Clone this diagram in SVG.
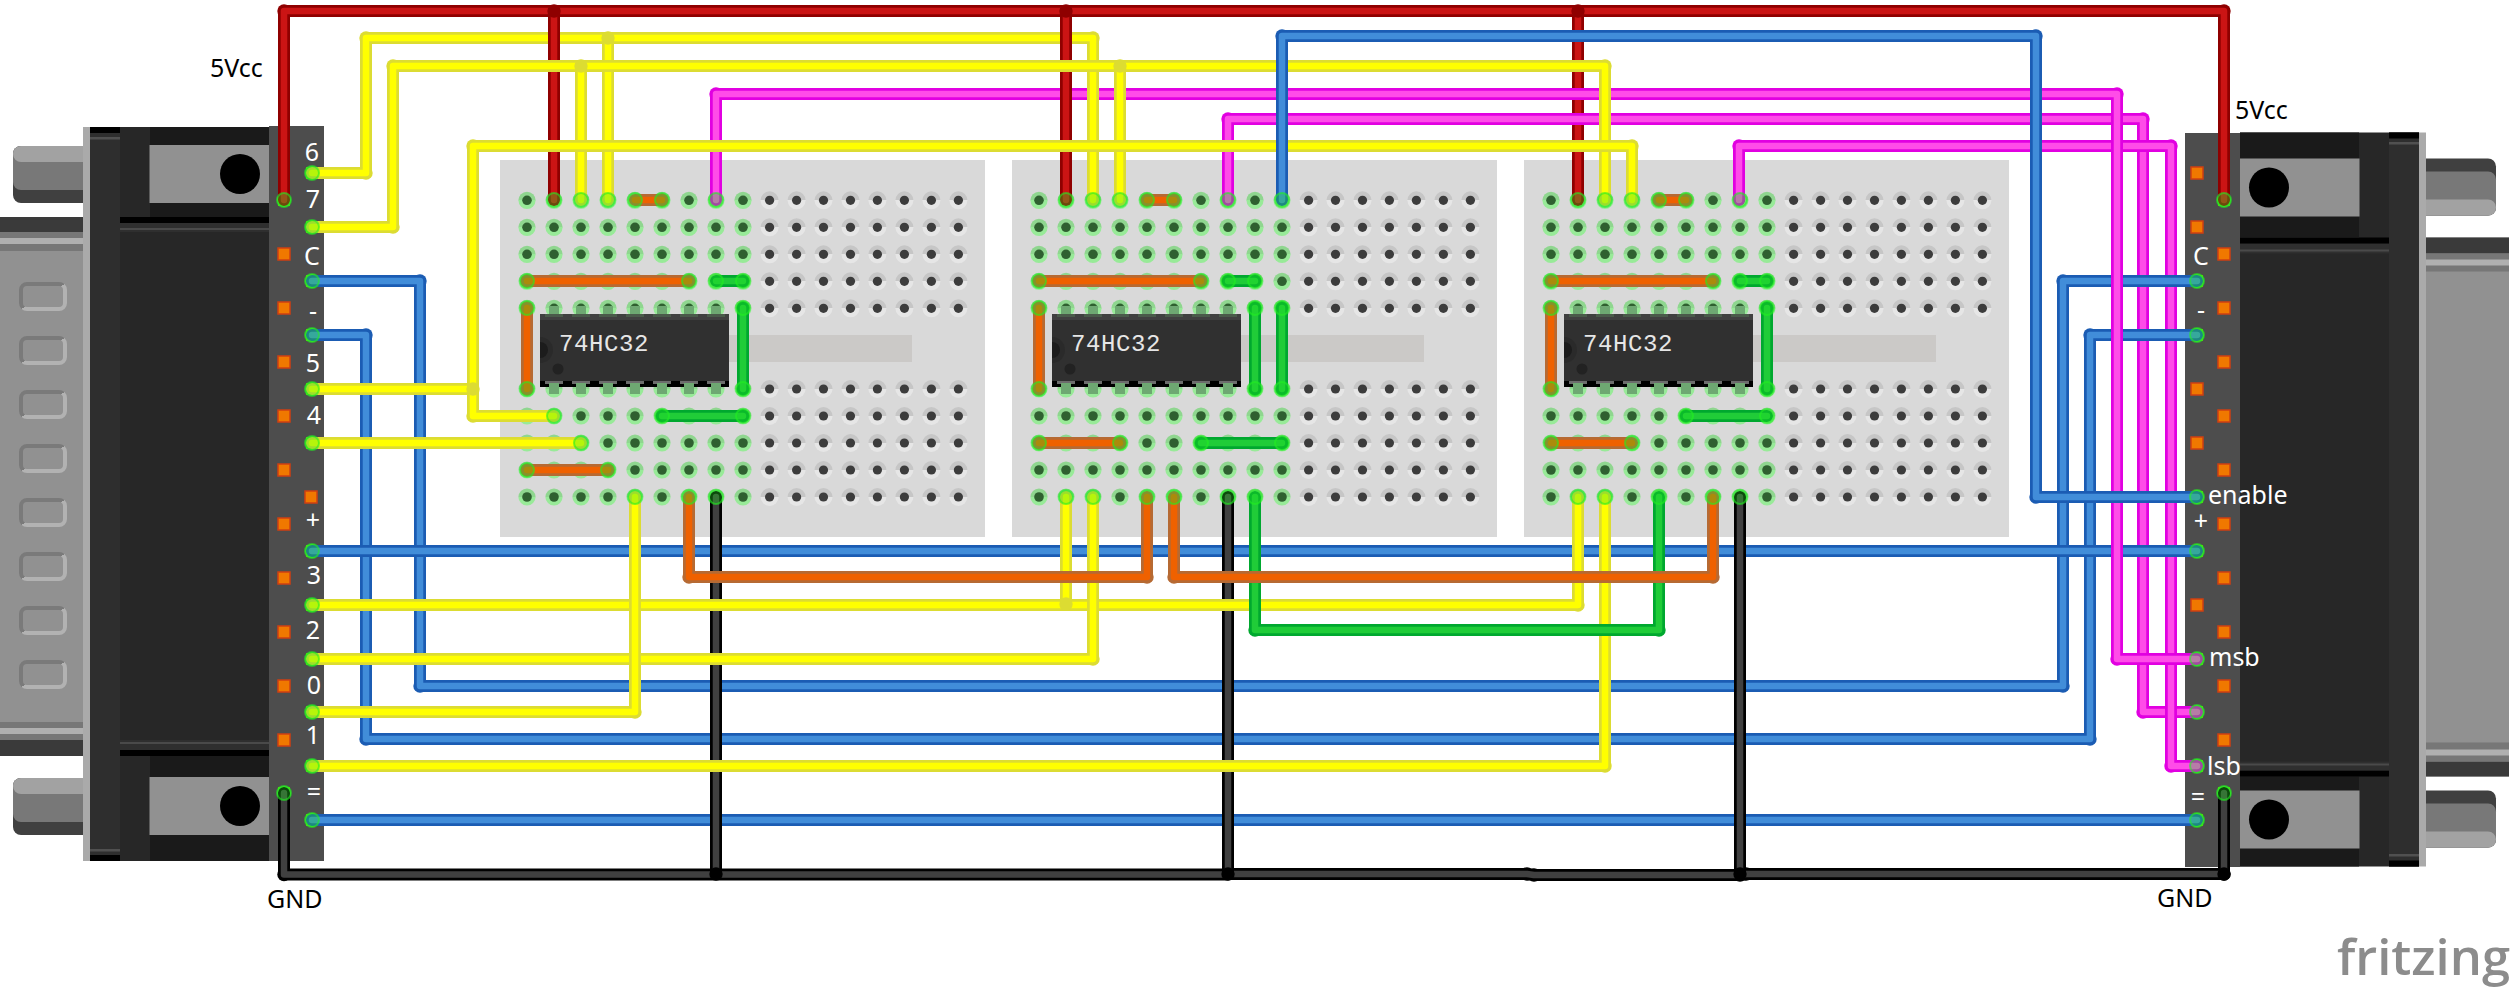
<svg xmlns="http://www.w3.org/2000/svg" xmlns:xlink="http://www.w3.org/1999/xlink" width="2514" height="987" viewBox="0 0 2514 987">
<style>
text{font-family:"Noto Sans","Open Sans","DejaVu Sans",sans-serif}
.lb{font-size:25px;fill:#fff}
.ex{font-size:25px;fill:#000}
.ic{font-family:"Liberation Mono","DejaVu Sans Mono",monospace;font-size:24px;fill:#e6e6e6;letter-spacing:0.6px}
path{fill:none;stroke-linecap:round;stroke-linejoin:round}
.o{stroke-width:12}.i{stroke-width:6.5}
.nm{marker:none}
.ro{stroke:#8f0000;marker-mid:url(#mr)}.ri{stroke:#cb1414}
.ko{stroke:#000;marker-mid:url(#mk)}.ki{stroke:#404040}
.bo{stroke:#1b5cb3;marker-mid:url(#mb)}.bi{stroke:#418dd9}
.yo{stroke:#dcdc32;marker-mid:url(#my)}.yi{stroke:#ff0}
.mo{stroke:#e100e1;marker-mid:url(#mm)}.mi{stroke:#ff4ce8}
.oo{stroke:#b66a33;marker-mid:url(#mo)}.oi{stroke:#ef6100}
.go{stroke:#00a82f;marker-mid:url(#mg)}.gi{stroke:#20cc38}
.or{fill:#f07800;stroke:#cf3f12;stroke-width:1.5}
.dy{fill:#dcdc32}.dr{fill:#8f0000}.dk{fill:#000}
</style>
<defs>
<marker id="mr" markerUnits="userSpaceOnUse" markerWidth="16" markerHeight="16" refX="8" refY="8"><circle cx="8" cy="8" r="6.7" fill="#8f0000"/></marker>
<marker id="mk" markerUnits="userSpaceOnUse" markerWidth="16" markerHeight="16" refX="8" refY="8"><circle cx="8" cy="8" r="6.7" fill="#000"/></marker>
<marker id="mb" markerUnits="userSpaceOnUse" markerWidth="16" markerHeight="16" refX="8" refY="8"><circle cx="8" cy="8" r="6.7" fill="#1b5cb3"/></marker>
<marker id="my" markerUnits="userSpaceOnUse" markerWidth="16" markerHeight="16" refX="8" refY="8"><circle cx="8" cy="8" r="6.7" fill="#dcdc32"/></marker>
<marker id="mm" markerUnits="userSpaceOnUse" markerWidth="16" markerHeight="16" refX="8" refY="8"><circle cx="8" cy="8" r="6.7" fill="#e100e1"/></marker>
<marker id="mg" markerUnits="userSpaceOnUse" markerWidth="16" markerHeight="16" refX="8" refY="8"><circle cx="8" cy="8" r="6.7" fill="#00a82f"/></marker>
<marker id="mo" markerUnits="userSpaceOnUse" markerWidth="16" markerHeight="16" refX="8" refY="8"><circle cx="8" cy="8" r="6.7" fill="#b66a33"/></marker>
<linearGradient id="hgr" x1="0" y1="0" x2="0" y2="1"><stop offset="0.5" stop-color="#c6c6c6"/><stop offset="0.5" stop-color="#e6e6e6"/></linearGradient>
<linearGradient id="hgg" x1="0" y1="0" x2="0" y2="1"><stop offset="0.5" stop-color="#8fd68f"/><stop offset="0.5" stop-color="#98ea98"/></linearGradient>
<linearGradient id="slot" x1="0" y1="0" x2="1" y2="1"><stop offset="0.5" stop-color="#7a7a7a"/><stop offset="0.5" stop-color="#b2b2b2"/></linearGradient>
<g id="hn"><circle r="9" fill="url(#hgr)"/><circle r="4.6" fill="#3c3c3c"/></g>
<g id="hg"><circle r="8.6" fill="url(#hgg)"/><circle r="4.8" fill="#2f6030"/></g>
<g id="tail"><use href="#hn" x="242.6"/><use href="#hn" x="269.6"/><use href="#hn" x="296.5"/><use href="#hn" x="323.5"/><use href="#hn" x="350.4"/><use href="#hn" x="377.4"/><use href="#hn" x="404.4"/><use href="#hn" x="431.4"/></g>
<g id="head"><use href="#hg"/><use href="#hg" x="27"/><use href="#hg" x="54"/><use href="#hg" x="81"/><use href="#hg" x="108"/><use href="#hg" x="135"/><use href="#hg" x="162"/><use href="#hg" x="189"/><use href="#hg" x="216"/></g>
<g id="r9"><use href="#head"/><use href="#tail"/></g>
<g id="r10"><use href="#head"/><use href="#hg" x="243"/><use href="#hn" x="269.6"/><use href="#hn" x="296.5"/><use href="#hn" x="323.5"/><use href="#hn" x="350.4"/><use href="#hn" x="377.4"/><use href="#hn" x="404.4"/><use href="#hn" x="431.4"/></g>
<g id="rows9"><use href="#r9" y="0.3"/><use href="#r9" y="27.3"/><use href="#r9" y="54.3"/><use href="#r9" y="81.3"/><use href="#r9" y="108.3"/><use href="#r9" y="189"/><use href="#r9" y="216"/><use href="#r9" y="243"/><use href="#r9" y="270"/><use href="#r9" y="297"/></g>
<g id="rows10"><use href="#r10" y="0.3"/><use href="#r10" y="27.3"/><use href="#r10" y="54.3"/><use href="#r10" y="81.3"/><use href="#r10" y="108.3"/><use href="#r10" y="189"/><use href="#r10" y="216"/><use href="#r10" y="243"/><use href="#r10" y="270"/><use href="#r10" y="297"/></g>
<g id="pin"><rect x="-5" y="306" width="10" height="11" fill="#6ea872"/><rect x="-9" y="314" width="18" height="3" fill="#4a5a4a"/><rect x="-9" y="381" width="18" height="3" fill="#6c6c6c"/><rect x="-5" y="383" width="10" height="11" fill="#6ea872"/></g>
<g id="chip">
<rect x="729" y="335" width="183" height="27" fill="#cbc9c7"/>
<rect x="540" y="314" width="189" height="73" fill="#000"/>
<rect x="540" y="314" width="189" height="67" fill="#303030"/>
<rect x="540" y="314" width="189" height="6" fill="#404040"/>
<path d="M540,337A13,13 0 0 1 540,363Z" style="fill:#2a2a2a;stroke:none"/>
<path d="M540,342A8,8 0 0 1 540,358Z" style="fill:#1c1c1c;stroke:none"/>
<circle cx="558" cy="369" r="5.5" fill="#222"/>
<use href="#pin" x="554"/><use href="#pin" x="581"/><use href="#pin" x="608"/><use href="#pin" x="635"/><use href="#pin" x="662"/><use href="#pin" x="689"/><use href="#pin" x="716"/>
<text class="ic" x="559" y="351">74HC32</text>
</g>
<g id="shell">
<rect x="13" y="146" width="80" height="57" rx="8" fill="#404040"/>
<rect x="13" y="146" width="80" height="44" rx="8" fill="#787878"/>
<rect x="13" y="146" width="80" height="16" rx="8" fill="#a2a2a2"/>
<rect x="0" y="217" width="83" height="539" fill="#919191"/>
<rect x="0" y="217" width="83" height="15" fill="#3a3a3a"/><rect x="0" y="232" width="83" height="19" fill="#777"/><rect x="0" y="238" width="83" height="6" fill="#b0b0b0"/>
<rect x="0" y="740" width="83" height="16" fill="#3a3a3a"/><rect x="0" y="722" width="83" height="18" fill="#777"/><rect x="0" y="728" width="83" height="6" fill="#b0b0b0"/>
<rect x="13" y="778" width="80" height="57" rx="8" fill="#404040"/>
<rect x="13" y="778" width="80" height="44" rx="8" fill="#787878"/>
<rect x="13" y="778" width="80" height="16" rx="8" fill="#a2a2a2"/>
<rect x="83" y="127" width="7" height="734" fill="#aaa"/>
<rect x="90" y="127" width="179" height="734" fill="#272727"/>
<rect x="90" y="127" width="30" height="734" fill="#2e2e2e"/>
<rect x="90" y="127" width="30" height="6" fill="#000"/><rect x="90" y="137" width="30" height="2.5" fill="#505050"/>
<rect x="90" y="855" width="30" height="6" fill="#000"/><rect x="90" y="849" width="30" height="2.5" fill="#505050"/>
<rect x="150" y="127" width="119" height="90" fill="#1a1a1a"/><rect x="149.500" y="145" width="119.500" height="58" fill="#919191"/>
<circle cx="240" cy="174" r="20" fill="#000"/>
<rect x="120" y="217" width="149" height="6" fill="#000"/><rect x="120" y="223" width="149" height="9" fill="#2f2f2f"/><rect x="120" y="228" width="149" height="2" fill="#4a4a4a"/>
<rect x="120" y="740" width="149" height="10" fill="#2f2f2f"/><rect x="120" y="742" width="149" height="2" fill="#4a4a4a"/><rect x="120" y="750" width="149" height="6" fill="#000"/>
<rect x="150" y="756" width="119" height="105" fill="#1a1a1a"/><rect x="149.500" y="777" width="119.500" height="58" fill="#919191"/>
<circle cx="240" cy="806" r="20" fill="#000"/>
</g>
<rect id="or" class="or" x="-6" y="-6" width="12" height="12"/>
<g id="pad"><rect x="-6" y="-6" width="12" height="12" fill="#6ad000"/><circle r="7" fill="#4fd82a"/></g>
<circle id="gl" r="7" fill="#22e022" fill-opacity="0.33" stroke="#22ee22" stroke-opacity="0.6" stroke-width="2"/>
</defs>
<rect width="2514" height="987" fill="#fff"/>

<g id="breadboard1"><rect x="500" y="160" width="485" height="377" fill="#d9d9d9"/><use href="#rows9" x="527" y="200"/></g>
<g id="breadboard2"><rect x="1012" y="160" width="485" height="377" fill="#d9d9d9"/><use href="#rows10" x="1039" y="200"/></g>
<g id="breadboard3"><rect x="1524" y="160" width="485" height="377" fill="#d9d9d9"/><use href="#rows9" x="1551" y="200"/></g>
<g id="ic1"><use href="#chip"/></g>
<g id="ic2"><use href="#chip" x="512"/></g>
<g id="ic3"><use href="#chip" x="1024"/></g>

<g id="connector-left">
<use href="#shell"/>
<g fill="none" stroke="url(#slot)" stroke-width="4">
<rect x="21" y="284" width="44" height="25" rx="6"/><rect x="21" y="338" width="44" height="25" rx="6"/><rect x="21" y="392" width="44" height="25" rx="6"/><rect x="21" y="446" width="44" height="25" rx="6"/><rect x="21" y="500" width="44" height="25" rx="6"/><rect x="21" y="554" width="44" height="25" rx="6"/><rect x="21" y="608" width="44" height="25" rx="6"/><rect x="21" y="662" width="44" height="25" rx="6"/>
</g>
<rect x="269" y="126" width="55" height="735" fill="#4d4d4d"/>
<use href="#or" x="284" y="254"/><use href="#or" x="284" y="308"/><use href="#or" x="284" y="362"/><use href="#or" x="284" y="416"/><use href="#or" x="284" y="470"/><use href="#or" x="284" y="524"/><use href="#or" x="284" y="578"/><use href="#or" x="284" y="632"/><use href="#or" x="284" y="686"/><use href="#or" x="284" y="740"/><use href="#or" x="311" y="497"/>
<use href="#pad" x="284" y="200"/><use href="#pad" x="284" y="793"/>
<use href="#pad" x="312" y="173"/><use href="#pad" x="312" y="227"/><use href="#pad" x="312" y="281"/><use href="#pad" x="312" y="335"/><use href="#pad" x="312" y="389"/><use href="#pad" x="312" y="443"/><use href="#pad" x="312" y="551"/><use href="#pad" x="312" y="605"/><use href="#pad" x="312" y="659"/><use href="#pad" x="312" y="712"/><use href="#pad" x="312" y="766"/><use href="#pad" x="312" y="820"/>
<text class="lb" x="312" y="161" text-anchor="middle">6</text><text class="lb" x="313" y="208" text-anchor="middle">7</text><text class="lb" x="312" y="265" text-anchor="middle">C</text><text class="lb" x="313" y="320" text-anchor="middle">-</text><text class="lb" x="313" y="372" text-anchor="middle">5</text><text class="lb" x="314" y="424" text-anchor="middle">4</text><text class="lb" x="313" y="529" text-anchor="middle">+</text><text class="lb" x="314" y="584" text-anchor="middle">3</text><text class="lb" x="313" y="639" text-anchor="middle">2</text><text class="lb" x="314" y="694" text-anchor="middle">0</text><text class="lb" x="313" y="744" text-anchor="middle">1</text><text class="lb" x="314" y="801" text-anchor="middle">=</text>
</g>

<g id="connector-right">
<use href="#shell" transform="translate(2509,993.500) scale(-1,-1)"/>
<rect x="2185" y="133" width="55" height="734" fill="#4d4d4d"/>
<use href="#or" x="2224" y="254"/><use href="#or" x="2224" y="308"/><use href="#or" x="2224" y="362"/><use href="#or" x="2224" y="416"/><use href="#or" x="2224" y="470"/><use href="#or" x="2224" y="524"/><use href="#or" x="2224" y="578"/><use href="#or" x="2224" y="632"/><use href="#or" x="2224" y="686"/><use href="#or" x="2224" y="740"/>
<use href="#or" x="2197" y="173"/><use href="#or" x="2197" y="227"/><use href="#or" x="2197" y="389"/><use href="#or" x="2197" y="443"/><use href="#or" x="2197" y="605"/>
<use href="#pad" x="2224" y="200"/><use href="#pad" x="2224" y="793"/>
<use href="#pad" x="2197" y="281"/><use href="#pad" x="2197" y="335"/><use href="#pad" x="2197" y="497"/><use href="#pad" x="2197" y="551"/><use href="#pad" x="2197" y="659"/><use href="#pad" x="2197" y="712"/><use href="#pad" x="2197" y="766"/><use href="#pad" x="2197" y="820"/>
</g>

<g id="connectors">
<path class="o ro nm" d="M1578,11V200"/><path class="i ri" d="M1578,11V200"/>
<path class="o ro" d="M284,200V11H2224V200"/><path class="i ri" d="M284,200V11H2224V200"/>
<path class="o mo" d="M2197,712H2143V119H1228V200"/><path class="i mi" d="M2197,712H2143V119H1228V200"/>
<path class="o mo" d="M2197,766H2171V146H1739V200"/><path class="i mi" d="M2197,766H2171V146H1739V200"/>
<path class="o bo" d="M312,281H420V686H2063V281H2197"/><path class="i bi" d="M312,281H420V686H2063V281H2197"/>
<path class="o bo" d="M312,335H366V739H2090V335H2197"/><path class="i bi" d="M312,335H366V739H2090V335H2197"/>
<path class="o bo" d="M312,551H2197"/><path class="i bi" d="M312,551H2197"/>
<path class="o bo" d="M312,820H2197"/><path class="i bi" d="M312,820H2197"/>
<path class="o mo" d="M2197,659H2117V94H716V200"/><path class="i mi" d="M2197,659H2117V94H716V200"/>
<path class="o ko" d="M284,793V874.500H1228"/><path class="i ki" d="M284,793V874.500H1228"/>
<path class="o ko nm" d="M1228,874H1527L1534,875H1740L1746,874H2224V793"/><path class="i ki" d="M1228,874H1527L1534,875H1740L1746,874H2224V793"/>
<circle class="dk" cx="2224" cy="874" r="6.7"/>
<path class="o ko nm" d="M716,497V874"/><path class="i ki" d="M716,497V874"/><path class="o ko nm" d="M1228,497V874"/><path class="i ki" d="M1228,497V874"/><path class="o ko nm" d="M1740,497V874"/><path class="i ki" d="M1740,497V874"/>
<circle class="dk" cx="716" cy="874" r="6.7"/><circle class="dk" cx="1228" cy="874" r="6.7"/><circle class="dk" cx="1740" cy="874" r="6.7"/>
<path class="o yo" d="M312,173H366V38H1093V200"/><path class="i yi" d="M312,173H366V38H1093V200"/>
<path class="o yo nm" d="M608,38V200"/><path class="i yi" d="M608,38V200"/><circle class="dy" cx="608" cy="38" r="6.7"/>
<path class="o ro nm" d="M554,11V200"/><path class="i ri" d="M554,11V200"/><path class="o ro nm" d="M1066,11V200"/><path class="i ri" d="M1066,11V200"/>
<circle class="dr" cx="554" cy="11" r="6.7"/><circle class="dr" cx="1066" cy="11" r="6.7"/><circle class="dr" cx="1578" cy="11" r="6.7"/>
<path class="o yo" d="M312,227H393V66H1605V200"/><path class="i yi" d="M312,227H393V66H1605V200"/>
<path class="o yo nm" d="M581,66V200"/><path class="i yi" d="M581,66V200"/><path class="o yo nm" d="M1120,66V200"/><path class="i yi" d="M1120,66V200"/><circle class="dy" cx="581" cy="66" r="6.7"/><circle class="dy" cx="1120" cy="66" r="6.7"/>
<path class="o yo" d="M312,389H473"/><path class="i yi" d="M312,389H473"/>
<path class="o yo" d="M554,416H473V146H1632V200"/><path class="i yi" d="M554,416H473V146H1632V200"/><circle class="dy" cx="473" cy="389" r="6.7"/>
<path class="o yo" d="M312,443H581"/><path class="i yi" d="M312,443H581"/>
<path class="o yo" d="M312,605H1578V497"/><path class="i yi" d="M312,605H1578V497"/>
<path class="o yo nm" d="M1066,605V497"/><path class="i yi" d="M1066,605V497"/><circle class="dy" cx="1066" cy="604" r="6.7"/>
<path class="o yo" d="M312,659H1093V497"/><path class="i yi" d="M312,659H1093V497"/>
<path class="o yo" d="M312,712H635V497"/><path class="i yi" d="M312,712H635V497"/>
<path class="o yo" d="M312,766H1605V497"/><path class="i yi" d="M312,766H1605V497"/>
<path class="o go" d="M1255,497V630H1659V497"/><path class="i gi" d="M1255,497V630H1659V497"/>
<path class="o oo" d="M689,497V577H1147V497"/><path class="i oi" d="M689,497V577H1147V497"/>
<path class="o oo" d="M1174,497V577H1713V497"/><path class="i oi" d="M1174,497V577H1713V497"/>
<path class="o oo nm" d="M635,200H662M527,281H689M527,308V389M527,470H608M1147,200H1174M1039,281H1201M1039,308V389M1039,443H1120M1659,200H1686M1551,281H1713M1551,308V389M1551,443H1632"/>
<path class="i oi" d="M635,200H662M527,281H689M527,308V389M527,470H608M1147,200H1174M1039,281H1201M1039,308V389M1039,443H1120M1659,200H1686M1551,281H1713M1551,308V389M1551,443H1632"/>
<path class="o go nm" d="M716,281H743M743,308V389M662,416H743M1228,281H1255M1255,308V389M1282,308V389M1201,443H1282M1740,281H1767M1767,308V389M1686,416H1767"/>
<path class="i gi" d="M716,281H743M743,308V389M662,416H743M1228,281H1255M1255,308V389M1282,308V389M1201,443H1282M1740,281H1767M1767,308V389M1686,416H1767"/>
<path class="o bo" d="M2197,497H2036V36H1282V200"/><path class="i bi" d="M2197,497H2036V36H1282V200"/>
</g>

<g id="pad-highlights">
<use href="#gl" x="284" y="200"/><use href="#gl" x="284" y="793"/><use href="#gl" x="312" y="173"/><use href="#gl" x="312" y="227"/><use href="#gl" x="312" y="281"/><use href="#gl" x="312" y="335"/><use href="#gl" x="312" y="389"/><use href="#gl" x="312" y="443"/><use href="#gl" x="312" y="551"/><use href="#gl" x="312" y="605"/><use href="#gl" x="312" y="659"/><use href="#gl" x="312" y="712"/><use href="#gl" x="312" y="766"/><use href="#gl" x="312" y="820"/>
<use href="#gl" x="2224" y="200"/><use href="#gl" x="2224" y="793"/><use href="#gl" x="2197" y="281"/><use href="#gl" x="2197" y="335"/><use href="#gl" x="2197" y="497"/><use href="#gl" x="2197" y="551"/><use href="#gl" x="2197" y="659"/><use href="#gl" x="2197" y="712"/><use href="#gl" x="2197" y="766"/><use href="#gl" x="2197" y="820"/>
<use href="#gl" x="554" y="200"/><use href="#gl" x="581" y="200"/><use href="#gl" x="608" y="200"/><use href="#gl" x="635" y="200"/><use href="#gl" x="662" y="200"/><use href="#gl" x="716" y="200"/><use href="#gl" x="527" y="281"/><use href="#gl" x="689" y="281"/><use href="#gl" x="716" y="281"/><use href="#gl" x="743" y="281"/><use href="#gl" x="527" y="308"/><use href="#gl" x="743" y="308"/><use href="#gl" x="527" y="389"/><use href="#gl" x="743" y="389"/><use href="#gl" x="554" y="416"/><use href="#gl" x="662" y="416"/><use href="#gl" x="743" y="416"/><use href="#gl" x="581" y="443"/><use href="#gl" x="527" y="470"/><use href="#gl" x="608" y="470"/><use href="#gl" x="635" y="497"/><use href="#gl" x="689" y="497"/><use href="#gl" x="716" y="497"/>
<use href="#gl" x="1066" y="200"/><use href="#gl" x="1093" y="200"/><use href="#gl" x="1120" y="200"/><use href="#gl" x="1147" y="200"/><use href="#gl" x="1174" y="200"/><use href="#gl" x="1228" y="200"/><use href="#gl" x="1282" y="200"/><use href="#gl" x="1039" y="281"/><use href="#gl" x="1201" y="281"/><use href="#gl" x="1228" y="281"/><use href="#gl" x="1255" y="281"/><use href="#gl" x="1039" y="308"/><use href="#gl" x="1255" y="308"/><use href="#gl" x="1282" y="308"/><use href="#gl" x="1039" y="389"/><use href="#gl" x="1255" y="389"/><use href="#gl" x="1282" y="389"/><use href="#gl" x="1039" y="443"/><use href="#gl" x="1120" y="443"/><use href="#gl" x="1201" y="443"/><use href="#gl" x="1282" y="443"/><use href="#gl" x="1066" y="497"/><use href="#gl" x="1093" y="497"/><use href="#gl" x="1147" y="497"/><use href="#gl" x="1174" y="497"/><use href="#gl" x="1228" y="497"/><use href="#gl" x="1255" y="497"/>
<use href="#gl" x="1578" y="200"/><use href="#gl" x="1605" y="200"/><use href="#gl" x="1632" y="200"/><use href="#gl" x="1659" y="200"/><use href="#gl" x="1686" y="200"/><use href="#gl" x="1740" y="200"/><use href="#gl" x="1551" y="281"/><use href="#gl" x="1713" y="281"/><use href="#gl" x="1740" y="281"/><use href="#gl" x="1767" y="281"/><use href="#gl" x="1551" y="308"/><use href="#gl" x="1767" y="308"/><use href="#gl" x="1551" y="389"/><use href="#gl" x="1767" y="389"/><use href="#gl" x="1686" y="416"/><use href="#gl" x="1767" y="416"/><use href="#gl" x="1551" y="443"/><use href="#gl" x="1632" y="443"/><use href="#gl" x="1578" y="497"/><use href="#gl" x="1605" y="497"/><use href="#gl" x="1659" y="497"/><use href="#gl" x="1713" y="497"/><use href="#gl" x="1740" y="497"/>
</g>

<g id="labels">
<text class="lb" x="2201" y="265" text-anchor="middle">C</text><text class="lb" x="2201" y="319" text-anchor="middle">-</text><text class="lb" x="2208" y="504">enable</text><text class="lb" x="2201" y="530" text-anchor="middle">+</text><text class="lb" x="2209" y="666">msb</text><text class="lb" x="2207" y="775">lsb</text><text class="lb" x="2198" y="806" text-anchor="middle">=</text>
<text class="ex" x="210" y="77">5Vcc</text><text class="ex" x="2235" y="119">5Vcc</text><text class="ex" x="267" y="908">GND</text><text class="ex" x="2157" y="907">GND</text>
<text x="2337" y="975" font-size="48" font-weight="600" fill="#8c8c8c" textLength="173" lengthAdjust="spacingAndGlyphs" style="font-family:'Open Sans','DejaVu Sans',sans-serif">fritzing</text>
</g>
</svg>
